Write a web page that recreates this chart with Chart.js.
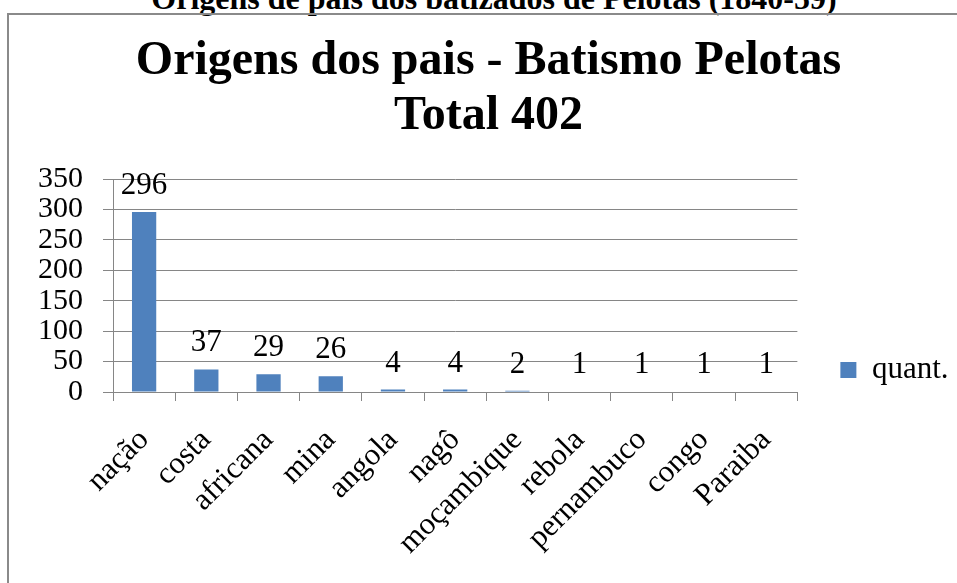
<!DOCTYPE html>
<html><head><meta charset="utf-8">
<script src="https://cdn.jsdelivr.net/npm/chart.js@4"></script>
<style>
html,body{margin:0;padding:0;background:#fff;overflow:hidden;width:957px;height:583px;position:relative}
#doc{position:absolute;left:0;top:-18px;width:988px;text-align:center;font:bold 32px/32px "Liberation Serif";color:#000;white-space:nowrap}
#frame{position:absolute;left:7px;top:13px;width:1000px;height:700px;border:2px solid #8a8a8a;box-sizing:border-box}
#wrap{position:absolute;left:0;top:0;width:977px;height:583px}
</style></head><body>
<div id="doc">Origens de pais dos batizados de Pelotas (1840-59)</div>
<div id="frame"></div>
<div id="wrap"><canvas id="c" width="977" height="583"></canvas></div>
<script>
const categories = ['nação','costa','africana','mina','angola','nagô','moçambique','rebola','pernambuco','congo','Paraiba'];
const quant = [296, 37, 29, 26, 4, 4, 2, 1, 1, 1, 1];
const seriesName = 'quant.';
const titleLines = ['Origens dos pais - Batismo Pelotas', 'Total 402'];
const yMin = 0, yMax = 350, yStep = 50;

const SERIF = '"Liberation Serif", "Times New Roman", serif';

const valueLabels = {
  id: 'valueLabels',
  afterDatasetsDraw(chart) {
    const ctx = chart.ctx;
    const meta = chart.getDatasetMeta(0);
    ctx.save();
    ctx.font = '31px ' + SERIF;
    ctx.fillStyle = '#000';
    ctx.textAlign = 'center';
    ctx.textBaseline = 'alphabetic';
    meta.data.forEach((bar, i) => {
      ctx.fillText(String(chart.data.datasets[0].data[i]), bar.x, bar.y - 18);
    });
    ctx.restore();
  }
};

new Chart(document.getElementById('c'), {
  type: 'bar',
  data: {
    labels: categories,
    datasets: [{
      label: seriesName,
      data: quant,
      backgroundColor: '#4F81BD',
      borderWidth: 0,
      categoryPercentage: 1,
      barPercentage: 0.39
    }]
  },
  options: {
    responsive: false,
    animation: false,
    devicePixelRatio: 1,
    layout: { padding: { left: 18.5, right: 18.5, top: 0, bottom: 0 } },
    plugins: {
      title: {
        display: true,
        text: titleLines,
        color: '#000',
        font: { family: SERIF, size: 48, weight: 'bold', lineHeight: 1.146 },
        padding: { top: 34, bottom: 35 }
      },
      legend: {
        position: 'right',
        align: 'start',
        fullSize: false,
        title: { display: true, text: '', font: { size: 10, lineHeight: 1.2 }, padding: { top: 120.5, bottom: 0 } },
        labels: {
          color: '#000',
          font: { family: SERIF, size: 31 },
          boxWidth: 16,
          boxHeight: 16,
          padding: 43
        }
      },
      tooltip: { enabled: false }
    },
    scales: {
      x: {
        grid: { display: true, drawOnChartArea: false, drawTicks: true, tickLength: 9, color: '#868686', offset: true },
        border: { color: '#868686' },
        ticks: { color: '#000', font: { family: SERIF, size: 31 }, minRotation: 45, maxRotation: 45, autoSkip: false, padding: 21 },
        afterFit: s => { s.height = 191; }
      },
      y: {
        min: yMin, max: yMax,
        ticks: { stepSize: yStep, autoSkip: false, color: '#000', font: { family: SERIF, size: 30 }, padding: 20 },
        grid: { color: '#868686', tickLength: 10 },
        border: { color: '#868686' },
        afterFit: s => { s.width = 94.5; }
      }
    }
  },
  plugins: [valueLabels]
});
</script>
</body></html>
